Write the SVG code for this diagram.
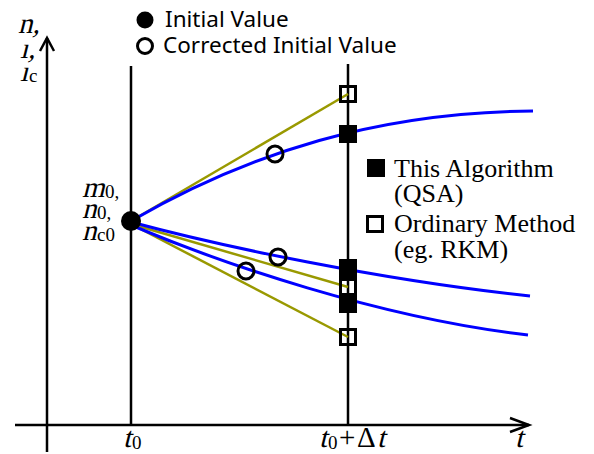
<svg xmlns="http://www.w3.org/2000/svg" width="594" height="454" viewBox="0 0 594 454">
<style>
.ax{stroke:#000;stroke-width:2.5;fill:none}
.blue{stroke:#0000ff;stroke-width:3;fill:none}
.olive{stroke:#999900;stroke-width:2.5;fill:none}
.oc{stroke:#000;stroke-width:3;fill:none}
.os{stroke:#000;stroke-width:3;fill:none}
.fs{fill:#000}
.mi{font-family:"Liberation Serif",serif;font-size:29px;fill:#000}
.sub{font-family:"Liberation Serif",serif;font-size:19px;fill:#000}
.up{font-family:"Liberation Serif",serif;font-size:29px;fill:#000}
.lg{font-family:"Liberation Serif",serif;font-size:26px;fill:#000}
.sn{font-family:"Noto Sans",sans-serif;font-size:22.5px;fill:#000}
</style>
<rect width="594" height="454" fill="#fff"/>
<g id="axes">
<line class="ax" x1="47" y1="38" x2="47" y2="452"/>
<polyline class="ax" points="40,51 47,38 54,51"/>
<line class="ax" x1="15" y1="425" x2="529" y2="425"/>
<polyline class="ax" points="510,418 529,425 510,432"/>
<line class="ax" x1="131" y1="66" x2="131" y2="425"/>
<line class="ax" x1="348" y1="64" x2="348" y2="425"/>
</g>
<g id="connectors">
<line class="olive" x1="131" y1="221" x2="348" y2="94"/>
<line class="olive" x1="131" y1="224" x2="348" y2="287"/>
<line class="olive" x1="131" y1="224" x2="348" y2="337"/>
<path class="blue" d="M131,221 C250,152 380,112 533,111"/>
<path class="blue" d="M131,222 C220,246 380,280 530,296"/>
<path class="blue" d="M131,225 C220,263 380,318 528,335"/>
</g>
<g id="initial-value">
<circle cx="131" cy="221" r="10" fill="#000"/>
</g>
<g id="corrected-values">
<circle class="oc" cx="275" cy="154" r="8"/>
<circle class="oc" cx="278" cy="257" r="8"/>
<circle class="oc" cx="246" cy="271" r="8"/>
</g>
<g id="qsa-points">
<rect class="fs" x="339" y="125" width="18" height="18"/>
<rect class="fs" x="339" y="259" width="18" height="20"/>
<rect class="fs" x="339" y="293" width="18" height="20"/>
</g>
<g id="rkm-points">
<rect class="os" x="340.5" y="86.5" width="15" height="15"/>
<rect class="os" x="340.5" y="279.5" width="15" height="15"/>
<rect class="os" x="340.5" y="329.5" width="15" height="15"/>
</g>
<g id="legend-top">
<circle cx="145" cy="20" r="8.5" fill="#000"/>
<text class="sn" x="165" y="27">Initial Value</text>
<circle class="oc" cx="145" cy="46" r="7.5"/>
<text class="sn" x="163" y="53">Corrected Initial Value</text>
</g>
<g id="legend-right">
<rect class="fs" x="367" y="159" width="18" height="18"/>
<text class="lg" x="394" y="177">This Algorithm</text>
<text class="lg" x="394" y="202">(QSA)</text>
<rect class="os" x="367.5" y="216.5" width="15" height="15"/>
<text class="lg" x="394" y="232">Ordinary Method</text>
<text class="lg" x="394" y="258">(eg. RKM)</text>
</g>
<g id="y-label">
<text class="mi" transform="translate(18,33) skewX(-14)">n,</text>
<text class="mi" transform="translate(20,58) skewX(-14)">ı,</text>
<text class="mi" transform="translate(20,81) skewX(-14)">ı</text>
<text class="sub" x="29" y="82">c</text>
</g>
<g id="init-label">
<text class="mi" transform="translate(82,197) skewX(-14)">m</text>
<text class="sub" x="105" y="198">0,</text>
<text class="mi" transform="translate(82,218) skewX(-14)">n</text>
<text class="sub" x="97" y="219">0,</text>
<text class="mi" transform="translate(82,240) skewX(-14)">n</text>
<text class="sub" x="97" y="241">c0</text>
</g>
<g id="t-labels">
<text class="mi" transform="translate(123,447) skewX(-14)">t</text>
<text class="sub" x="132" y="449">0</text>
<text class="mi" transform="translate(319,447) skewX(-14)">t</text>
<text class="sub" x="328" y="449">0</text>
<text class="up" x="339" y="447">+</text>
<text class="up" x="357" y="447">Δ</text>
<text class="mi" transform="translate(377,447) skewX(-14)">t</text>
<text class="mi" transform="translate(515,447) skewX(-14)">t</text>
</g>
</svg>
